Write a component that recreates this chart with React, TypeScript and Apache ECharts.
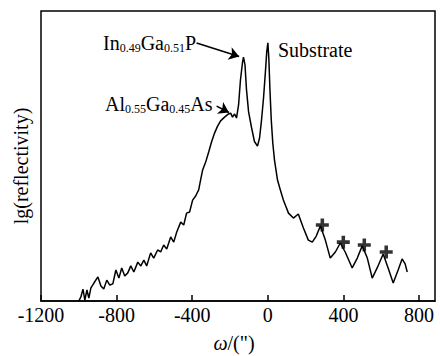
import { useEffect, useRef } from 'react';
import * as echarts from 'echarts';

// omega (arcsec) and relative log reflectivity (arbitrary units, 0..100)
const omega = [
  -1000, -989, -978, -968, -957, -947, -936, -920, -899, -883, -868, -852, -836, -820, -804, -788,
  -773, -757, -741, -725, -709, -688, -672, -656, -641, -620, -604, -583, -567, -551, -535, -514,
  -498, -482, -461, -445, -430, -414, -398, -382, -366, -356, -345, -329, -313, -298, -282, -266,
  -250, -229, -208, -197, -187, -176, -166, -155, -145, -134, -129, -121, -113, -102, -87, -71,
  -55, -44, -34, -23, -13, -6, 0, 5, 11, 18, 26, 35, 51, 66, 82, 109, 135, 161, 188, 214, 235, 256,
  278, 304, 330, 357, 383, 409, 446, 473, 499, 526, 552, 578, 610, 636, 663, 689, 710, 726, 737,
];
const reflectivity = [
  0.0, 1.4, 4.1, 0.3, 3.8, 1.0, 4.5, 6.2, 8.3, 5.2, 4.1, 7.2, 5.5, 5.9, 10.7, 7.9,
  11.4, 8.6, 9.7, 12.1, 10.0, 13.4, 12.1, 14.1, 12.1, 16.6, 14.8, 17.6, 16.9, 19.3, 17.9, 22.1,
  20.3, 23.8, 27.2, 26.2, 30.3, 30.7, 34.8, 36.2, 38.3, 41.7, 45.2, 47.9, 51.4, 54.8, 57.9, 60.3,
  62.1, 63.4, 64.5, 64.8, 63.4, 64.5, 63.1, 67.6, 76.2, 82.4, 84.1, 81.4, 72.8, 65.2, 60.0, 55.0,
  53.4, 56.2, 62.1, 70.0, 79.0, 85.9, 89.0, 83.8, 72.8, 62.4, 54.5, 48.6, 41.7, 38.3, 34.8, 30.3, 28.6, 30.0, 25.2, 21.0, 20.3, 22.4,
  25.9, 21.0, 14.8, 16.9, 20.0, 16.9, 11.4, 14.8, 19.0, 14.8, 7.9, 11.4, 16.2, 11.4, 6.2, 10.7, 14.5, 12.8, 10.0,
];
const markOmega = [288, 399, 510, 626];
const markLevel = [26.2, 20.3, 19.3, 16.9];
const xTicks = [-1200, -800, -400, 0, 400, 800];

export default function App() {
  const ref = useRef<HTMLDivElement>(null);
  useEffect(() => {
    const chart = echarts.init(ref.current!, null, { renderer: 'svg' });
    const font = '"Liberation Serif", "Times New Roman", serif';
    const main = { fontFamily: font, fontSize: 20, color: '#000', lineHeight: 22 };
    const sub = { fontFamily: font, fontSize: 12, color: '#000', lineHeight: 12, verticalAlign: 'bottom' };
    chart.setOption({
      animation: false,
      backgroundColor: '#fff',
      grid: {
        left: 41, top: 11, width: 394, height: 290,
        show: true, borderColor: '#000', borderWidth: 1.5,
      },
      xAxis: {
        type: 'value', min: -1200, max: 884, interval: 400,
        axisLine: { show: true, onZero: false, lineStyle: { color: '#000', width: 1.5 } },
        axisTick: { show: true, inside: true, length: 6, lineStyle: { color: '#000', width: 1.5 } },
        axisLabel: {
          color: '#000', fontFamily: font, fontSize: 20, margin: 4,
          showMaxLabel: false,
          formatter: (v: number) => (xTicks.includes(v) ? String(v) : ''),
        },
        splitLine: { show: false },
      },
      yAxis: {
        type: 'value', min: 0, max: 100,
        axisLine: { show: false, onZero: false },
        axisTick: { show: false },
        axisLabel: { show: false },
        splitLine: { show: false },
      },
      series: [
        {
          type: 'line',
          data: omega.map((x, i) => [x, reflectivity[i]]),
          showSymbol: false,
          symbol: 'none',
          lineStyle: { color: '#000', width: 1.5 },
          silent: true,
          markLine: {
            silent: true,
            symbol: ['none', 'arrow'],
            symbolSize: 10,
            label: { show: false },
            lineStyle: { color: '#000', width: 1.6, type: 'solid' },
            emphasis: { disabled: true },
            data: [
              [{ coord: [-377, 89.0] }, { coord: [-152, 84.3] }],
              [{ coord: [-271, 67.2] }, { coord: [-206, 65.0] }],
            ],
          },
        },
        {
          type: 'scatter',
          data: markOmega.map((x, i) => [x, markLevel[i]]),
          symbol: 'path://M4,0H7V4H11V7H7V11H4V7H0V4H4Z',
          symbolSize: 13,
          itemStyle: { color: '#000' },
          silent: true,
        },
      ],
      graphic: [
        {
          type: 'text', x: 103, y: 43,
          style: {
            text: '{a|In}{b|0.49}{a|Ga}{b|0.51}{a|P}',
            rich: { a: main, b: sub }, verticalAlign: 'middle', align: 'left',
          },
        },
        {
          type: 'text', x: 105, y: 104,
          style: {
            text: '{a|Al}{b|0.55}{a|Ga}{b|0.45}{a|As}',
            rich: { a: main, b: sub }, verticalAlign: 'middle', align: 'left',
          },
        },
        {
          type: 'text', x: 278, y: 50,
          style: { text: 'Substrate', font: '20px ' + font, fill: '#000', verticalAlign: 'middle', align: 'left' },
        },
        {
          type: 'text', x: 21, y: 166, rotation: Math.PI / 2,
          style: { text: 'lg(reflectivity)', font: '20px ' + font, fill: '#000', verticalAlign: 'middle', align: 'center' },
        },
        {
          type: 'text', x: 234, y: 343,
          style: {
            text: '{i|ω}{a|/(")}',
            rich: {
              i: { fontFamily: font, fontSize: 20, fontStyle: 'italic', color: '#000' },
              a: { fontFamily: font, fontSize: 20, color: '#000' },
            },
            verticalAlign: 'middle', align: 'center',
          },
        },
      ],
    });
    return () => chart.dispose();
  }, []);
  return (
    <div
      ref={ref}
      style={{ position: 'fixed', left: 0, top: 0, width: 440, height: 356, background: '#fff' }}
    />
  );
}
